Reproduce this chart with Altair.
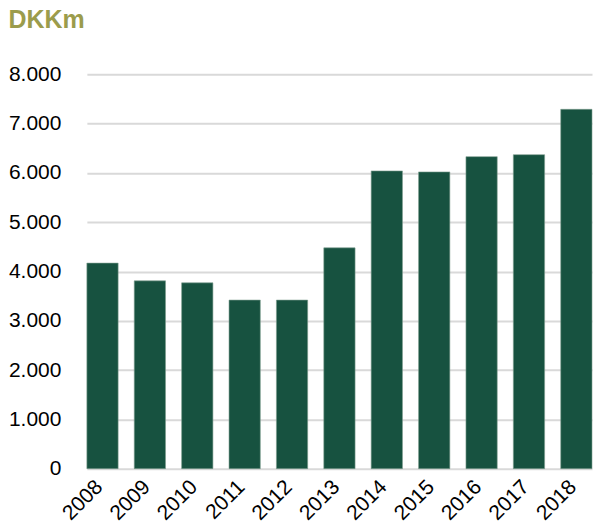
import altair as alt
import pandas as pd

years = ["2008", "2009", "2010", "2011", "2012", "2013", "2014", "2015", "2016", "2017", "2018"]
values = [4170, 3810, 3770, 3420, 3420, 4480, 6040, 6020, 6330, 6370, 7290]
y_ticks = [0, 1000, 2000, 3000, 4000, 5000, 6000, 7000, 8000]

df = pd.DataFrame({"year": years, "value": values})

FONT = "Liberation Sans, Arial, sans-serif"

chart = (
    alt.Chart(df)
    .mark_bar(color="#175240", stroke="#7e9d8f", strokeWidth=0.6)
    .encode(
        x=alt.X(
            "year:N",
            sort=years,
            scale=alt.Scale(range=[18, 524], paddingInner=0.34, paddingOuter=0),
            axis=alt.Axis(
                title=None,
                labelAngle=-45,
                labelAlign="right",
                labelBaseline="middle",
                labelFontSize=21,
                labelFont=FONT,
                labelColor="#000000",
                labelPadding=15,
                labelOffset=-3,
                ticks=False,
                domain=False,
                labelOverlap=False,
            ),
        ),
        y=alt.Y(
            "value:Q",
            scale=alt.Scale(domain=[0, 8000], nice=False),
            axis=alt.Axis(
                title=None,
                values=y_ticks,
                labelExpr="replace(format(datum.value, ','), ',', '.')",
                labelFontSize=21,
                labelFont=FONT,
                labelColor="#000000",
                labelPadding=8,
                ticks=False,
                domain=False,
                grid=True,
                gridColor="#d9d9d9",
                gridWidth=2,
            ),
        ),
    )
    .properties(
        width=526,
        height=395,
        padding={"left": 0, "right": 0, "top": 0, "bottom": 0},
        title=alt.TitleParams(
            text="DKKm",
            anchor="start",
            frame="bounds",
            font=FONT,
            fontSize=25,
            fontWeight="bold",
            color="#9b9c4c",
            baseline="alphabetic",
            offset=10,
        ),
    )
    .configure_view(stroke=None)
)

chart.save("out.html", embed_options={"renderer": "svg", "actions": False})
